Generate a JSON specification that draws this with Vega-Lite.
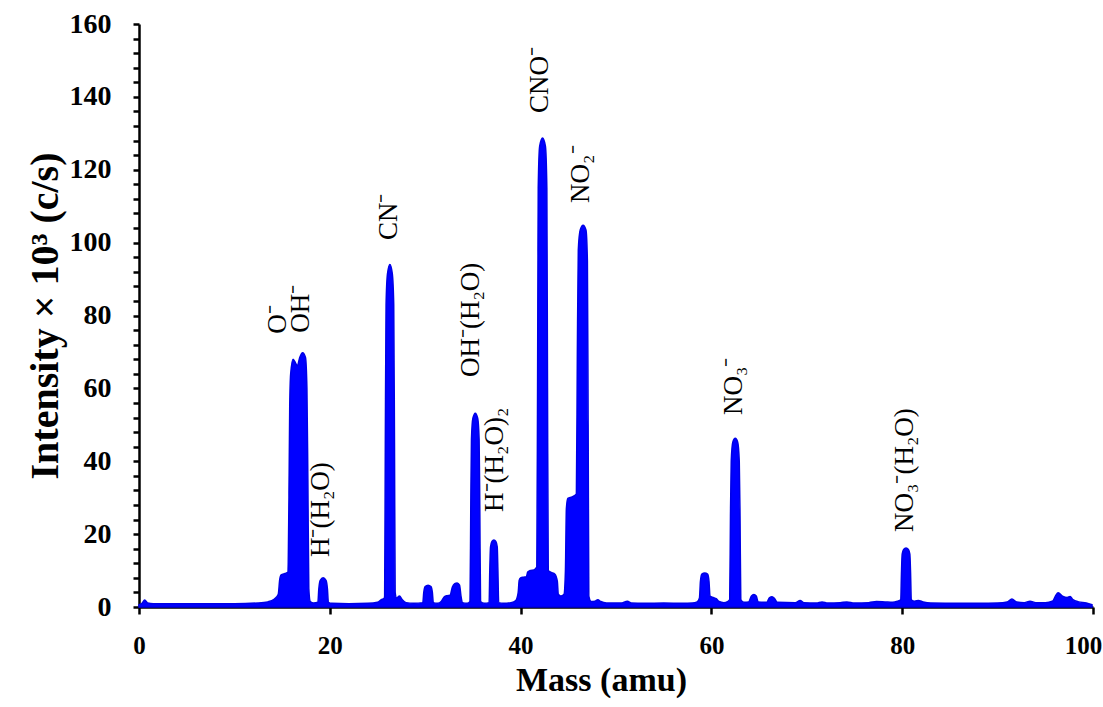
{
  "$schema": "https://vega.github.io/schema/vega-lite/v6.json",
  "width": 954,
  "height": 583,
  "autosize": {"type": "none"},
  "padding": {"left": 139, "top": 24, "right": 10, "bottom": 100},
  "background": "white",
  "config": {"view": {"stroke": null}, "font": "Liberation Serif"},
  "resolve": {"axis": {"x": "independent", "y": "independent"}},
  "datasets": {
    "spectrum": [
      {"mass": 0, "intensity": 0.6}, {"mass": 0.3, "intensity": 1.0}, {"mass": 0.6, "intensity": 1.9}, {"mass": 0.9, "intensity": 1.1},
      {"mass": 1.5, "intensity": 0.9}, {"mass": 5, "intensity": 0.9}, {"mass": 10, "intensity": 0.9}, {"mass": 12.5, "intensity": 1.1},
      {"mass": 13.5, "intensity": 1.4}, {"mass": 14.2, "intensity": 2.2}, {"mass": 14.6, "intensity": 3.5}, {"mass": 14.75, "intensity": 7.5},
      {"mass": 14.9, "intensity": 8.8}, {"mass": 15.3, "intensity": 9.2}, {"mass": 15.6, "intensity": 9.5}, {"mass": 15.72, "intensity": 30},
      {"mass": 15.8, "intensity": 55}, {"mass": 15.9, "intensity": 64}, {"mass": 16.15, "intensity": 68}, {"mass": 16.4, "intensity": 67},
      {"mass": 16.6, "intensity": 66.2}, {"mass": 16.85, "intensity": 68.5}, {"mass": 17.15, "intensity": 69.8}, {"mass": 17.45, "intensity": 68.5},
      {"mass": 17.6, "intensity": 60}, {"mass": 17.7, "intensity": 35}, {"mass": 17.8, "intensity": 5}, {"mass": 17.95, "intensity": 1.5},
      {"mass": 18.3, "intensity": 1.1}, {"mass": 18.75, "intensity": 1.3}, {"mass": 18.85, "intensity": 5}, {"mass": 19.0, "intensity": 7.3},
      {"mass": 19.3, "intensity": 8.0}, {"mass": 19.6, "intensity": 7.3}, {"mass": 19.75, "intensity": 5}, {"mass": 19.85, "intensity": 1.3},
      {"mass": 20.2, "intensity": 1.0}, {"mass": 22, "intensity": 0.9}, {"mass": 24, "intensity": 1.0}, {"mass": 25, "intensity": 1.3},
      {"mass": 25.4, "intensity": 2.0}, {"mass": 25.7, "intensity": 2.4}, {"mass": 25.75, "intensity": 3}, {"mass": 25.82, "intensity": 45},
      {"mass": 25.9, "intensity": 83}, {"mass": 26.05, "intensity": 91.5}, {"mass": 26.3, "intensity": 94}, {"mass": 26.55, "intensity": 91.5},
      {"mass": 26.7, "intensity": 83}, {"mass": 26.78, "intensity": 45}, {"mass": 26.85, "intensity": 4}, {"mass": 27.0, "intensity": 2.5},
      {"mass": 27.3, "intensity": 3.0}, {"mass": 27.6, "intensity": 2.0}, {"mass": 28, "intensity": 1.2}, {"mass": 28.8, "intensity": 1.0},
      {"mass": 29.75, "intensity": 1.2}, {"mass": 29.85, "intensity": 4}, {"mass": 30.0, "intensity": 5.6}, {"mass": 30.3, "intensity": 6.0},
      {"mass": 30.6, "intensity": 5.6}, {"mass": 30.75, "intensity": 4}, {"mass": 30.85, "intensity": 1.2}, {"mass": 31.3, "intensity": 1.0},
      {"mass": 31.7, "intensity": 1.6}, {"mass": 32.0, "intensity": 2.8}, {"mass": 32.3, "intensity": 3.1}, {"mass": 32.6, "intensity": 3.2},
      {"mass": 32.85, "intensity": 5.5}, {"mass": 33.1, "intensity": 6.4}, {"mass": 33.35, "intensity": 6.6}, {"mass": 33.6, "intensity": 6.0},
      {"mass": 33.75, "intensity": 3}, {"mass": 33.9, "intensity": 1.2}, {"mass": 34.4, "intensity": 1.0}, {"mass": 34.7, "intensity": 1.5},
      {"mass": 34.78, "intensity": 28}, {"mass": 34.85, "intensity": 46}, {"mass": 35.0, "intensity": 51.8}, {"mass": 35.25, "intensity": 53.2},
      {"mass": 35.5, "intensity": 51.8}, {"mass": 35.65, "intensity": 46}, {"mass": 35.72, "intensity": 28}, {"mass": 35.8, "intensity": 1.5},
      {"mass": 36.2, "intensity": 1.0}, {"mass": 36.7, "intensity": 1.2}, {"mass": 36.77, "intensity": 10}, {"mass": 36.85, "intensity": 16.5},
      {"mass": 37.0, "intensity": 18}, {"mass": 37.2, "intensity": 18.4}, {"mass": 37.4, "intensity": 18}, {"mass": 37.55, "intensity": 16.5},
      {"mass": 37.62, "intensity": 10}, {"mass": 37.7, "intensity": 1.2}, {"mass": 38.2, "intensity": 1.0}, {"mass": 39.0, "intensity": 1.2},
      {"mass": 39.5, "intensity": 1.8}, {"mass": 39.75, "intensity": 4}, {"mass": 39.85, "intensity": 7.3}, {"mass": 40.0, "intensity": 8.0},
      {"mass": 40.3, "intensity": 8.2}, {"mass": 40.6, "intensity": 8.3}, {"mass": 40.75, "intensity": 9.6}, {"mass": 41.0, "intensity": 10.0},
      {"mass": 41.4, "intensity": 10.2}, {"mass": 41.7, "intensity": 11}, {"mass": 41.78, "intensity": 60}, {"mass": 41.85, "intensity": 115},
      {"mass": 42.0, "intensity": 126.5}, {"mass": 42.3, "intensity": 128.7}, {"mass": 42.6, "intensity": 126.5}, {"mass": 42.75, "intensity": 115},
      {"mass": 42.82, "intensity": 60}, {"mass": 42.9, "intensity": 10}, {"mass": 43.2, "intensity": 9.5}, {"mass": 43.6, "intensity": 9.0},
      {"mass": 43.85, "intensity": 7}, {"mass": 43.95, "intensity": 3.5}, {"mass": 44.2, "intensity": 3.0}, {"mass": 44.55, "intensity": 3.5},
      {"mass": 44.7, "intensity": 10}, {"mass": 44.8, "intensity": 27}, {"mass": 44.95, "intensity": 29.8}, {"mass": 45.4, "intensity": 30.2},
      {"mass": 45.85, "intensity": 31}, {"mass": 45.95, "intensity": 70}, {"mass": 46.05, "intensity": 98}, {"mass": 46.25, "intensity": 103.5},
      {"mass": 46.55, "intensity": 104.8}, {"mass": 46.85, "intensity": 103.5}, {"mass": 47.0, "intensity": 95}, {"mass": 47.08, "intensity": 50},
      {"mass": 47.15, "intensity": 3}, {"mass": 47.4, "intensity": 1.5}, {"mass": 47.8, "intensity": 1.6}, {"mass": 48.1, "intensity": 2.0},
      {"mass": 48.4, "intensity": 1.5}, {"mass": 49, "intensity": 1.1}, {"mass": 50.5, "intensity": 1.1}, {"mass": 51.2, "intensity": 1.6},
      {"mass": 51.6, "intensity": 1.1}, {"mass": 53, "intensity": 1.0}, {"mass": 55, "intensity": 1.1}, {"mass": 57, "intensity": 1.0},
      {"mass": 58, "intensity": 1.1}, {"mass": 58.5, "intensity": 1.4}, {"mass": 58.75, "intensity": 2.5}, {"mass": 58.85, "intensity": 7},
      {"mass": 59.0, "intensity": 9.0}, {"mass": 59.3, "intensity": 9.3}, {"mass": 59.6, "intensity": 9.0}, {"mass": 59.75, "intensity": 7},
      {"mass": 59.85, "intensity": 3}, {"mass": 60.2, "intensity": 2.6}, {"mass": 60.5, "intensity": 2.3}, {"mass": 60.8, "intensity": 1.5},
      {"mass": 61.3, "intensity": 1.2}, {"mass": 61.7, "intensity": 1.5}, {"mass": 61.92, "intensity": 2}, {"mass": 62.0, "intensity": 25},
      {"mass": 62.08, "intensity": 40}, {"mass": 62.25, "intensity": 45.3}, {"mass": 62.5, "intensity": 46.3}, {"mass": 62.75, "intensity": 45.3},
      {"mass": 62.92, "intensity": 40}, {"mass": 63.0, "intensity": 25}, {"mass": 63.08, "intensity": 2}, {"mass": 63.4, "intensity": 1.3},
      {"mass": 63.9, "intensity": 1.4}, {"mass": 64.2, "intensity": 3.0}, {"mass": 64.45, "intensity": 3.4}, {"mass": 64.7, "intensity": 3.0},
      {"mass": 64.9, "intensity": 1.4}, {"mass": 65.8, "intensity": 1.3}, {"mass": 66.1, "intensity": 2.6}, {"mass": 66.35, "intensity": 2.8},
      {"mass": 66.6, "intensity": 2.4}, {"mass": 66.9, "intensity": 1.3}, {"mass": 68.8, "intensity": 1.2}, {"mass": 69.3, "intensity": 1.8},
      {"mass": 69.7, "intensity": 1.2}, {"mass": 71, "intensity": 1.1}, {"mass": 71.6, "intensity": 1.4}, {"mass": 72.2, "intensity": 1.1},
      {"mass": 73.5, "intensity": 1.2}, {"mass": 74.2, "intensity": 1.4}, {"mass": 75, "intensity": 1.1}, {"mass": 76.5, "intensity": 1.2},
      {"mass": 77.3, "intensity": 1.5}, {"mass": 78.2, "intensity": 1.4}, {"mass": 79.0, "intensity": 1.3}, {"mass": 79.5, "intensity": 1.6},
      {"mass": 79.85, "intensity": 2}, {"mass": 79.92, "intensity": 9}, {"mass": 80.0, "intensity": 14.5}, {"mass": 80.15, "intensity": 15.8},
      {"mass": 80.4, "intensity": 16.2}, {"mass": 80.65, "intensity": 15.8}, {"mass": 80.8, "intensity": 14.5}, {"mass": 80.88, "intensity": 9},
      {"mass": 80.95, "intensity": 2}, {"mass": 81.3, "intensity": 1.6}, {"mass": 81.7, "intensity": 1.8}, {"mass": 82.2, "intensity": 1.4},
      {"mass": 83, "intensity": 1.1}, {"mass": 86, "intensity": 1.0}, {"mass": 88, "intensity": 1.0}, {"mass": 90, "intensity": 1.1},
      {"mass": 91.0, "intensity": 1.4}, {"mass": 91.5, "intensity": 2.2}, {"mass": 92.0, "intensity": 1.4}, {"mass": 92.8, "intensity": 1.2},
      {"mass": 93.4, "intensity": 1.6}, {"mass": 94.0, "intensity": 1.2}, {"mass": 95.0, "intensity": 1.2}, {"mass": 95.8, "intensity": 1.7},
      {"mass": 96.1, "intensity": 3.2}, {"mass": 96.35, "intensity": 3.9}, {"mass": 96.8, "intensity": 3.0}, {"mass": 97.3, "intensity": 2.6},
      {"mass": 97.6, "intensity": 2.9}, {"mass": 97.9, "intensity": 2.0}, {"mass": 98.5, "intensity": 1.4}, {"mass": 99.3, "intensity": 1.1},
      {"mass": 99.9, "intensity": 0.6}
    ],
    "labels": [
      {"mass": 14.6, "y": 75.0, "label": "O⁻"},
      {"mass": 17.0, "y": 75.3, "label": "OH⁻"},
      {"mass": 19.1, "y": 13.7, "label": "H⁻(H₂O)"},
      {"mass": 26.2, "y": 100.7, "label": "CN⁻"},
      {"mass": 34.8, "y": 63.1, "label": "OH⁻(H₂O)"},
      {"mass": 37.3, "y": 26.1, "label": "H⁻(H₂O)₂"},
      {"mass": 42.0, "y": 135.6, "label": "CNO⁻"},
      {"mass": 46.3, "y": 110.9, "label": "NO₂⁻"},
      {"mass": 62.4, "y": 52.7, "label": "NO₃⁻"},
      {"mass": 80.3, "y": 20.6, "label": "NO₃⁻(H₂O)"}
    ]
  },
  "layer": [
    {
      "data": {"name": "spectrum"},
      "mark": {"type": "area", "interpolate": "monotone", "color": "#0000ff", "stroke": "#0000e6", "strokeWidth": 1.5, "opacity": 1},
      "encoding": {
        "x": {
          "field": "mass", "type": "quantitative",
          "scale": {"domain": [0, 100], "nice": false, "zero": false},
          "axis": {
            "orient": "bottom",
            "values": [0, 20, 40, 60, 80, 100], "title": "Mass (amu)", "grid": false,
            "domainColor": "black", "domainWidth": 2.5, "tickColor": "black", "tickWidth": 2.5, "tickSize": 7,
            "labelFont": "Liberation Serif", "labelFontWeight": "bold", "labelFontSize": 25, "labelColor": "black",
            "labelPadding": 19, "labelFlush": false, "labelOverlap": false,
            "labelOffset": {"condition": {"test": "datum.value === 100", "value": -10}, "value": 0},
            "titleFont": "Liberation Serif", "titleFontWeight": "bold", "titleFontSize": 34, "titleColor": "black",
            "titlePadding": 5, "titleX": 462
          }
        },
        "y": {
          "field": "intensity", "type": "quantitative",
          "scale": {"domain": [0, 160], "nice": false},
          "axis": {
            "orient": "left",
            "values": [0, 4, 8, 12, 16, 20, 24, 28, 32, 36, 40, 44, 48, 52, 56, 60, 64, 68, 72, 76, 80, 84, 88, 92, 96, 100, 104, 108, 112, 116, 120, 124, 128, 132, 136, 140, 144, 148, 152, 156, 160],
            "labelExpr": "datum.value % 20 === 0 ? datum.label : ''",
            "title": "Intensity × 10³ (c/s)", "grid": false,
            "domainColor": "black", "domainWidth": 2.5, "tickColor": "black", "tickWidth": 2.5, "tickSize": 6,
            "labelFont": "Liberation Serif", "labelFontWeight": "bold", "labelFontSize": 28, "labelColor": "black",
            "labelPadding": 22, "labelOverlap": false, "labelFlush": false,
            "titleFont": "Liberation Serif", "titleFontWeight": "bold", "titleFontSize": 40, "titleColor": "black", "titlePadding": 4
          }
        }
      }
    },
    {
      "data": {"name": "labels"},
      "mark": {"type": "text", "angle": 270, "align": "left", "baseline": "middle", "font": "Liberation Serif", "fontSize": 27, "color": "black"},
      "encoding": {
        "x": {"field": "mass", "type": "quantitative", "axis": null},
        "y": {"field": "y", "type": "quantitative", "axis": null},
        "text": {"field": "label"}
      }
    }
  ]
}
